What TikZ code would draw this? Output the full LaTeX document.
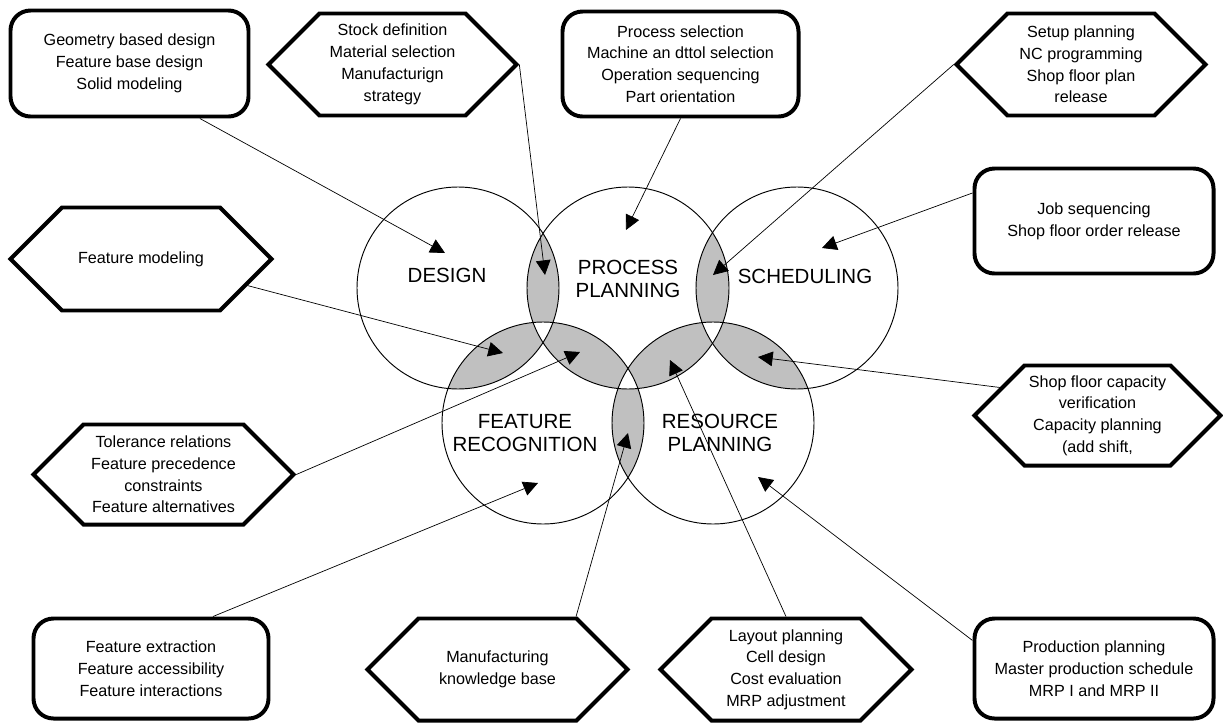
\documentclass[tikz,border=0pt]{standalone}
\RequirePackage{fontspec}
\RequirePackage{tikz}
\RequirePackage{tkz-euclide}
\usetikzlibrary{arrows.meta}
\usetikzlibrary{shapes.symbols}
\setmainfont{Liberation Sans}
\definecolor{lensgray}{HTML}{C0C0C0}

\tikzset{
    rbox/.style={draw,line width=3.4pt,rounded corners=0.6cm,align=center,inner sep=0pt,
                 font=\fontsize{13.8pt}{18.6pt}\selectfont},
    hexbox/.style={draw,line width=3.4pt,signal,signal to=west and east,signal pointer angle=90,
                   align=center,inner sep=0pt,font=\fontsize{13.8pt}{18.6pt}\selectfont},
    area/.style={align=center,font=\fontsize{17.5pt}{19.6pt}\selectfont},
    feed/.style={line width=0.6pt,-{Triangle[length=0.44cm,width=0.44cm]}}
}

\begin{document}
\begin{tikzpicture}[x=0.03cm,y=-0.03cm]
                \useasboundingbox (0,0) rectangle (1223,722);

                \coordinate (D) at (458,288);
                \coordinate (P) at (628,288);
                \coordinate (S) at (797,288);
                \coordinate (F) at (543,423);
                \coordinate (R) at (713,423);

                \foreach \a/\b in {D/P,D/F,P/S,P/F,P/R,S/R,F/R}{
                    \begin{scope}
                        \clip (\a) circle[radius=101];
                        \fill[lensgray] (\b) circle[radius=101];
                    \end{scope}
                }
                \foreach \a/\b/\c in {D/P/F,P/F/R,P/S/R}{
                    \begin{scope}
                        \clip (\a) circle[radius=101];
                        \clip (\b) circle[radius=101];
                        \fill[white] (\c) circle[radius=101];
                    \end{scope}
                }
                \foreach \c in {D,P,S,F,R}
                    \draw[line width=0.8pt] (\c) circle[radius=101];

                \node[area] (design) at (447,275) {DESIGN};
                \node[area] (procplan) at (628,279) {PROCESS\\PLANNING};
                \node[area] (sched) at (805,276) {SCHEDULING};
                \node[area] (featrec) at (525,433) {FEATURE\\RECOGNITION};
                \node[area] (resplan) at (720,433) {RESOURCE\\PLANNING};

                \node[rbox,minimum width=7.14cm,minimum height=3.18cm] (geom) at (129.5,63.5)
                    {Geometry based design\\Feature base design\\Solid modeling};
                \node[hexbox,minimum width=7.44cm,minimum height=3.06cm] (stock) at (392.5,64.5)
                    {Stock definition\\Material selection\\Manufacturign\\strategy};
                \node[rbox,minimum width=7.08cm,minimum height=3.15cm] (procsel) at (680.5,64)
                    {Process selection\\Machine an dttol selection\\Operation sequencing\\Part orientation};
                \node[hexbox,minimum width=7.47cm,minimum height=3.06cm] (setup) at (1081,64.5)
                    {Setup planning\\NC programming\\Shop floor plan\\release};
                \node[rbox,minimum width=7.17cm,minimum height=3.15cm] (job) at (1094,221)
                    {Job sequencing\\Shop floor order release};
                \node[hexbox,minimum width=7.83cm,minimum height=3.09cm] (featmod) at (141,259)
                    {Feature modeling};
                \node[hexbox,minimum width=7.8cm,minimum height=3.0cm] (toler) at (163.5,474.5)
                    {Tolerance relations\\Feature precedence\\constraints\\Feature alternatives};
                \node[rbox,minimum width=7.05cm,minimum height=3.0cm] (featext) at (151,668.5)
                    {Feature extraction\\Feature accessibility\\Feature interactions};
                \node[hexbox,minimum width=7.8cm,minimum height=3.06cm] (mfgkb) at (497.5,669.5)
                    {Manufacturing\\knowledge base};
                \node[hexbox,minimum width=7.53cm,minimum height=3.06cm] (layout) at (786,669.5)
                    {Layout planning\\Cell design\\Cost evaluation\\MRP adjustment};
                \node[rbox,minimum width=7.17cm,minimum height=3.0cm] (prodplan) at (1094,668.5)
                    {Production planning\\Master production schedule\\MRP I and MRP II};
                \node[hexbox,minimum width=7.38cm,minimum height=3.0cm] (capac) at (1097.5,415.5)
                    {Shop floor capacity\\verification\\Capacity planning\\(add shift,};

                \tkzDefPoint(445,253){tD}
                \tkzDefPoint(545,275){tDP}
                \tkzDefPoint(626,230){tP}
                \tkzDefPoint(713,275){tPS}
                \tkzDefPoint(822,248){tS}
                \tkzDefPoint(503,353){tDF}
                \tkzDefPoint(580,352){tPF}
                \tkzDefPoint(538,483){tF}
                \tkzDefPoint(628,433){tFR}
                \tkzDefPoint(670,360){tPR}
                \tkzDefPoint(758,477){tR}
                \tkzDefPoint(758,357){tSR}

                \draw[feed] (geom.-38.5) -- (tD);
                \draw[feed] (stock.east) -- (tDP);
                \draw[feed] (procsel.south) -- (tP);
                \draw[feed] (setup.west) -- (tPS);
                \draw[feed] (job.167) -- (tS);
                \draw[feed] (featmod.-14.5) -- (tDF);
                \draw[feed] (toler.east) -- (tPF);
                \draw[feed] (featext.40) -- (tF);
                \draw[feed] (mfgkb.34) -- (tFR);
                \draw[feed] (layout.north) -- (tPR);
                \draw[feed] (prodplan.167.6) -- (tR);
                \draw[feed] (capac.164.5) -- (tSR);
\end{tikzpicture}
\end{document}
